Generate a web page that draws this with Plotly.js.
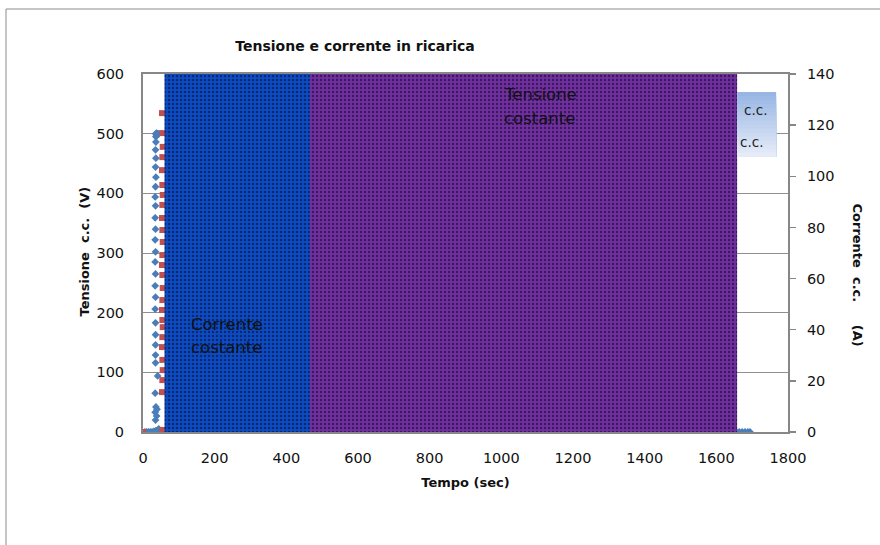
<!DOCTYPE html>
<html>
<head>
<meta charset="utf-8">
<script src="https://cdn.plot.ly/plotly-3.0.1.min.js"></script>
<style>
  html, body { margin: 0; padding: 0; background: #fff; }
  #chart { width: 880px; height: 545px; }
</style>
</head>
<body>
<div id="chart"></div>
<script>
// Tensione (V) - blue diamonds, left axis
let tempoV = [5, 10, 15, 20, 25, 30, 35, 40, 44, 35, 38, 34, 39, 36, 34, 41, 35, 35, 35, 35, 35, 34, 35, 34, 35, 34, 35, 34, 35, 34, 35, 34, 35, 36, 35, 36, 35, 36, 36, 37, 36, 38, 40, 42, 44, 1632, 1640, 1648, 1656, 1664, 1672, 1680, 1688, 1694];
let tensione = [0, 0, 0, 0, 0, 1, 2, 3, 5, 20, 27, 33, 38, 42, 65, 94, 116, 129, 146, 163, 183, 206, 226, 245, 265, 285, 302, 322, 340, 359, 379, 394, 411, 427, 444, 459, 473, 486, 495, 498, 500, 501, 500, 499, 500, 0, 0, 0, 0, 0, 0, 0, 0, 0];

// Corrente (A) - red squares, right axis
let tempoA = [0, 54, 53, 54, 55, 54, 53, 54, 55, 54, 53, 54, 55, 54, 53, 54, 55, 54, 53, 54, 55, 54, 53, 54, 55, 54, 53];
let corrente = [0, 0.8, 15.6, 20.3, 24.2, 28.2, 33.2, 37.1, 41, 43.8, 47.7, 51.6, 56.3, 61.4, 65.3, 69.2, 74.3, 79, 83.7, 88.8, 92.7, 96.6, 102.4, 107.5, 111.5, 116.9, 124.7];

// charging phases (sec)
let zoneStart = [60, 466];
let zoneEnd = [466, 1658];
let zoneColor = ['#0d4bc4', '#7030a0'];
let zoneDots = ['#05286e', '#3b1660'];

let xTicks = [0, 200, 400, 600, 800, 1000, 1200, 1400, 1600, 1800];

var gray = '#878787';
var font = 'DejaVu Sans';

var traces = [
  {
    x: tempoV, y: tensione, type: 'scatter', mode: 'markers', yaxis: 'y',
    marker: { symbol: 'diamond', size: 6, color: '#4a7ebb' }
  },
  {
    x: tempoA, y: corrente, type: 'scatter', mode: 'markers', yaxis: 'y2',
    marker: { symbol: 'square', size: 6, color: '#c0504d' }
  }
];

for (var i = 0; i < zoneStart.length; i++) {
  traces.push({
    type: 'bar', yaxis: 'y3',
    x: [(zoneStart[i] + zoneEnd[i]) / 2],
    y: [600],
    width: [zoneEnd[i] - zoneStart[i]],
    marker: {
      color: zoneColor[i],
      line: { width: 0 },
      pattern: { shape: '.', bgcolor: zoneColor[i], fgcolor: zoneDots[i], size: 4, solidity: 0.3 }
    },
    hoverinfo: 'skip'
  });
}

// "c.c." box with light gradient (stacked from the top, each one covering the rest below)
var shapes = [];
var boxX0 = 1658, boxX1 = 1767, boxY0 = 461, boxY1 = 570;
var steps = 16;
for (var k = 0; k < steps; k++) {
  var f = k / (steps - 1);
  var r = Math.round(152 + (229 - 152) * f);
  var g = Math.round(181 + (236 - 181) * f);
  var b = Math.round(228 + (248 - 228) * f);
  shapes.push({
    type: 'rect', xref: 'x', yref: 'y', layer: 'above',
    x0: boxX0, x1: boxX1,
    y0: boxY0,
    y1: boxY1 - (boxY1 - boxY0) * k / steps,
    fillcolor: 'rgb(' + r + ',' + g + ',' + b + ')',
    line: { width: 0 }
  });
}
// outer chart frame
shapes.push({
  type: 'rect', xref: 'paper', yref: 'paper', layer: 'above',
  x0: (6 - 143) / 645, x1: 1.3,
  y0: -0.5, y1: (432 - 9) / 358,
  line: { color: '#8c8c8c', width: 1 }, fillcolor: 'rgba(0,0,0,0)'
});

var nb = '\u00a0';
var annotations = [
  { x: 1002, y: 566, text: 'Tensione' },
  { x: 1002, y: 526, text: 'costante' },
  { x: 128, y: 181, text: 'Corrente' },
  { x: 128, y: 142, text: 'costante' }
].map(function (a) {
  return { x: a.x, y: a.y, xref: 'x', yref: 'y', text: a.text, showarrow: false,
    xanchor: 'left', yanchor: 'middle', font: { family: font, size: 16.5, color: '#111' } };
});

annotations.push(
  { x: 1708, y: 540, xref: 'x', yref: 'y', text: 'c.c.', showarrow: false,
    font: { family: font, size: 13.5, color: '#222' } },
  { x: 1697, y: 486, xref: 'x', yref: 'y', text: 'c.c.', showarrow: false,
    font: { family: font, size: 13.5, color: '#222' } },
  { x: 84, y: 251.5, xref: 'paper', yref: 'paper', text: 'Tensione' + nb + nb + 'c.c.' + nb + nb + '(V)',
    showarrow: false, textangle: -90, xanchor: 'center', yanchor: 'middle',
    font: { family: font, size: 13, color: '#111', weight: 'bold' } },
  { x: 857, y: 274.5, xref: 'paper', yref: 'paper', text: 'Corrente' + nb + nb + 'c.c.' + nb + nb + nb + nb + nb + '(A)',
    showarrow: false, textangle: 90, xanchor: 'center', yanchor: 'middle',
    font: { family: font, size: 13, color: '#111', weight: 'bold' } }
);
// convert pixel positions of the side titles to paper coords
annotations.forEach(function (a) {
  if (a.xref === 'paper') {
    a.x = (a.x - 143) / 645;
    a.y = (432 - a.y) / 358;
  }
});

var layout = {
  width: 880, height: 545,
  margin: { l: 143, r: 92, t: 74, b: 113 },
  paper_bgcolor: '#fff', plot_bgcolor: '#fff',
  font: { family: font, size: 14.5, color: '#111' },
  showlegend: false,
  barmode: 'overlay',
  title: {
    text: '<b>Tensione e corrente in ricarica</b>',
    x: 355 / 880, xref: 'container', xanchor: 'center',
    y: 1 - 46 / 545, yref: 'container', yanchor: 'middle',
    font: { family: font, size: 14, color: '#111' }
  },
  xaxis: {
    range: [0, 1800], tickvals: xTicks, showgrid: false, zeroline: false,
    showline: true, linecolor: gray, linewidth: 2, mirror: true,
    ticks: '', ticklabelstandoff: 12,
    title: { text: '<b>Tempo (sec)</b>', standoff: 12, font: { family: font, size: 13, color: '#111' } }
  },
  yaxis: {
    range: [0, 600], dtick: 100, showgrid: true, gridcolor: '#8f8f8f', gridwidth: 1,
    zeroline: false, showline: true, linecolor: gray, linewidth: 2,
    ticks: '', ticklabelstandoff: 14
  },
  yaxis2: {
    range: [0, 140], dtick: 20, overlaying: 'y', side: 'right', showgrid: false,
    zeroline: false, showline: true, linecolor: gray, linewidth: 2,
    ticks: 'outside', ticklen: 6, tickcolor: gray, tickwidth: 1.5, ticklabelstandoff: 8
  },
  yaxis3: {
    range: [0, 600], overlaying: 'y', visible: false, showgrid: false, zeroline: false
  },
  shapes: shapes,
  annotations: annotations
};

Plotly.newPlot('chart', traces, layout, { displayModeBar: false, staticPlot: true });
</script>
</body>
</html>
